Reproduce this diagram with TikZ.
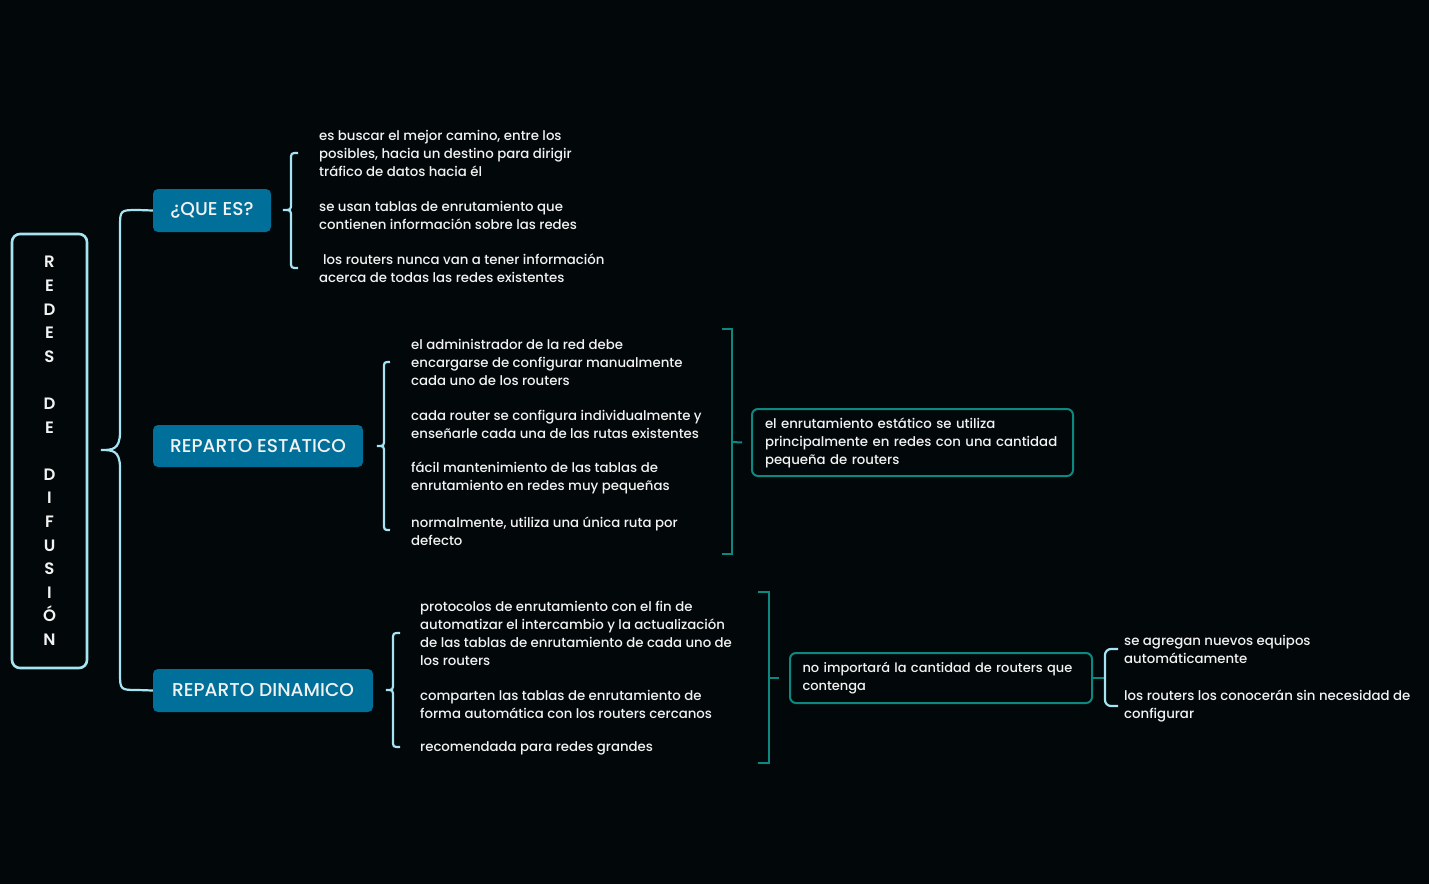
\documentclass[tikz,border=0pt]{standalone}
\usepackage{fontspec}
\setmainfont{Poppins}[UprightFont=* Medium, BoldFont=* SemiBold]
\usetikzlibrary{positioning,calc}
\definecolor{bgNight}{HTML}{02070A}
\definecolor{topicBlue}{HTML}{00709A}
\definecolor{iceLine}{HTML}{A6E4F2}
\definecolor{tealLine}{HTML}{0B8880}
\definecolor{paleText}{HTML}{F2F2F2}

\begin{document}
\begin{tikzpicture}[x=1pt, y=-1pt,
    mainBox/.style={rectangle, rounded corners=8pt, draw=iceLine, line width=2.6pt, minimum width=75pt, minimum height=434pt},
    topicBox/.style={rectangle, rounded corners=5pt, fill=topicBlue, text=paleText, font=\fontsize{18.6}{20}\selectfont, inner sep=0pt},
    itemText/.style={anchor=west, align=left, text=paleText, font=\fontsize{13.3}{18}\selectfont, inner sep=0pt},
    noteBox/.style={rectangle, rounded corners=6pt, draw=tealLine, line width=2pt, text=paleText, font=\fontsize{13.3}{18}\selectfont, align=left, inner xsep=13pt, inner ysep=0pt},
    iceBrace/.style={draw=iceLine, line width=2.2pt},
    tealBracket/.style={draw=tealLine, line width=2pt}
]
    \fill[bgNight] (0,0) rectangle (1429,884);
    \useasboundingbox (0,0) rectangle (1429,884);

    % title column
    \node[mainBox] (title) at (49.5,451) {};
    \node[text=paleText, align=center, font=\bfseries\fontsize{16.5}{23.6}\selectfont] (titleText) at (49.5,451)
        {R\\E\\D\\E\\S\\[23.6pt]D\\E\\[23.6pt]D\\I\\F\\U\\S\\I\\Ó\\N};

    % topics
    \node[topicBox, minimum width=118pt, minimum height=43pt] (queEs) at (212,210.5) {¿QUE ES?};
    \node[topicBox, minimum width=210pt, minimum height=42pt] (estatico) at (258,446) {REPARTO ESTATICO};
    \node[topicBox, minimum width=220pt, minimum height=43pt] (dinamico) at (263,690.5) {REPARTO DINAMICO};

    \coordinate (mainTop) at (138,210);
    \coordinate (mainBot) at (138,690);
    \draw[iceBrace] (mainTop) -- (queEs.west);
    \draw[iceBrace] (mainBot) -- (dinamico.west);
    \draw[iceBrace] (mainTop) .. controls (120,210) .. (120,228) -- (120,432)
        .. controls (120,450) and (112,450) .. (101,450)
        .. controls (112,450) and (120,450) .. (120,468) -- (120,672)
        .. controls (120,690) .. (mainBot);

    % que es
    \node[itemText] (qA) at (319,153) {es buscar el mejor camino, entre los\\posibles, hacia un destino para dirigir\\tráfico de datos hacia él};
    \node[itemText] (qB) at (319,215) {se usan tablas de enrutamiento que\\contienen información sobre las redes};
    \node[itemText] (qC) at (319,268.5) {\hspace*{4pt}los routers nunca van a tener información\\acerca de todas las redes existentes};
    \coordinate (qTop) at (298,153);
    \coordinate (qBot) at (298,268);
    \draw[iceBrace] (qTop) .. controls (291,153) .. (291,160) -- (291,203)
        .. controls (291,210) .. (283,210) .. controls (291,210) .. (291,217) -- (291,261)
        .. controls (291,268) .. (qBot);

    % estatico
    \node[itemText] (sA) at (411,362) {el administrador de la red debe\\encargarse de configurar manualmente\\cada uno de los routers};
    \node[itemText] (sB) at (411,424) {cada router se configura individualmente y\\enseñarle cada una de las rutas existentes};
    \node[itemText] (sC) at (411,477.5) {fácil mantenimiento de las tablas de\\enrutamiento en redes muy pequeñas};
    \node[itemText] (sD) at (411,531) {normalmente, utiliza una única ruta por\\defecto};
    \coordinate (sTop) at (390,362);
    \coordinate (sBot) at (390,530);
    \draw[iceBrace] (sTop) .. controls (384,362) .. (384,369) -- (384,439)
        .. controls (384,446) .. (377,446) .. controls (384,446) .. (384,453) -- (384,523)
        .. controls (384,530) .. (sBot);

    \node[noteBox, text width=295pt, minimum height=67pt] (sNote) at (912.5,442.5) {el enrutamiento estático se utiliza\\principalmente en redes con una cantidad\\pequeña de routers};
    \coordinate (sBrTop) at (722,329);
    \coordinate (sBrBot) at (722,554);
    \draw[tealBracket] (sBrTop) -- (732,329) -- (732,554) -- (sBrBot);
    \draw[tealBracket] (732,442) -- ($(sNote.west)+(-9,0)$);

    % dinamico
    \node[itemText] (dA) at (420,633.5) {protocolos de enrutamiento con el fin de\\automatizar el intercambio y la actualización\\de las tablas de enrutamiento de cada uno de\\los routers};
    \node[itemText] (dB) at (420,704) {comparten las tablas de enrutamiento de\\forma automática con los routers cercanos};
    \node[itemText] (dC) at (420,748) {recomendada para redes grandes};
    \coordinate (dTop) at (400,633);
    \coordinate (dBot) at (400,747);
    \draw[iceBrace] (dTop) .. controls (393,633) .. (393,640) -- (393,683)
        .. controls (393,690) .. (386,690) .. controls (393,690) .. (393,697) -- (393,740)
        .. controls (393,747) .. (dBot);

    \node[noteBox, text width=277pt, inner xsep=12.5pt, minimum height=50pt, font=\fontsize{13}{18}\selectfont] (dNote) at (941,678) {no importará la cantidad de routers que\\contenga};
    \coordinate (dBrTop) at (758,592);
    \coordinate (dBrBot) at (758,763);
    \draw[tealBracket] (dBrTop) -- (769,592) -- (769,763) -- (dBrBot);
    \draw[tealBracket] (769,678) -- ($(dNote.west)+(-10,0)$);

    \node[itemText] (rA) at (1124,649.5) {se agregan nuevos equipos\\automáticamente};
    \node[itemText] (rB) at (1124,706) {los routers los conocerán sin necesidad de\\configurar};
    \coordinate (rJoin) at (1105,678);
    \draw[tealBracket] (dNote.east) -- (rJoin);
    \draw[iceBrace, rounded corners=6pt] (1118,649) -- (1105,649) -- (1105,706) -- (1118,706);
\end{tikzpicture}
\end{document}
